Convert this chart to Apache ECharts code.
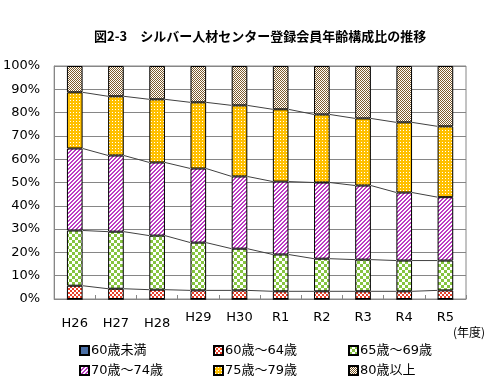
<!DOCTYPE html>
<html><head><meta charset="utf-8">
<script src="https://cdn.jsdelivr.net/npm/echarts@6/dist/echarts.min.js"></script>
<style>html,body{margin:0;padding:0;background:#fff}#c{width:491px;height:387px}</style>
</head><body><div id="c"></div>
<script>
const categories = ['H26','H27','H28','H29','H30','R1','R2','R3','R4','R5'];
const seriesNames = ['60歳未満','60歳～64歳','65歳～69歳','70歳～74歳','75歳～79歳','80歳以上'];
const under60 = [0,0,0,0,0,0,0,0,0,0];
const age60_64 = [5.7,4.4,4.0,3.7,3.7,3.3,3.3,3.3,3.3,3.7];
const age65_69 = [23.7,24.5,23.2,20.5,17.9,15.8,14.0,13.6,13.2,12.8];
const age70_74 = [35.2,32.7,31.4,31.8,31.0,31.3,32.7,31.8,29.2,27.2];
const age75_79 = [24.1,25.4,27.1,28.4,30.5,31.0,29.2,28.8,30.1,30.4];
const age80plus = [11.3,13.0,14.3,15.6,16.9,18.6,20.8,22.5,24.2,25.9];
const yTicks = [0,10,20,30,40,50,60,70,80,90,100];

function pat(w,h,draw){const c=document.createElement('canvas');c.width=w;c.height=h;const g=c.getContext('2d');g.fillStyle='#fff';g.fillRect(0,0,w,h);draw(g);return {image:c,repeat:'repeat'};}
const pRed = pat(4,4,g=>{g.fillStyle='#E8402A';g.fillRect(0,0,2,2);g.fillRect(2,2,2,2);});
const pGreen = pat(6,6,g=>{g.fillStyle='#86C440';g.fillRect(0,0,3,3);g.fillRect(3,3,3,3);});
const pMag = pat(4,4,g=>{g.fillStyle='#BC3CC4';for(let x=0;x<4;x++)for(let y=0;y<4;y++){if((x+y)%4<2)g.fillRect(x,y,1,1);}});
const pOrange = pat(3,3,g=>{g.fillStyle='#FFC000';g.fillRect(0,0,3,3);g.fillStyle='#fff';g.fillRect(1,1,1,1);});
const pBrown = pat(2,2,g=>{g.fillStyle='#7E5C2C';g.fillRect(0,0,1,1);g.fillRect(1,1,1,1);});
const fills = ['#4A6FA5',pRed,pGreen,pMag,pOrange,pBrown];
const values = [under60,age60_64,age65_69,age70_74,age75_79,age80plus];

const FONT = '"DejaVu Sans","Noto Sans CJK JP",sans-serif';
const BAR = 0.38;

const barSeries = values.map((v,k)=>({
  name: seriesNames[k], type:'bar', stack:'s', barWidth: (BAR*100)+'%', data:v,
  itemStyle:{color:fills[k], borderColor:'#000', borderWidth:1},
  emphasis:{disabled:true}, animation:false
}));

const cum = [];
let run = categories.map(()=>0);
for(let k=0;k<5;k++){ run = run.map((r,i)=>r+values[k][i]); if(k>=1) cum.push(run.slice()); }
const lineSeries = cum.map(arr=>({
  type:'custom', silent:true, animation:false, z:5,
  data: arr.slice(0,-1).map((v,i)=>[i, v, arr[i+1]]),
  encode:{x:0,y:1},
  renderItem:(params, api)=>{
    const i=api.value(0);
    const band=api.size([1,0])[0];
    const half=band*BAR/2;
    const p1=api.coord([i, api.value(1)]);
    const p2=api.coord([i+1, api.value(2)]);
    return {type:'line', shape:{x1:p1[0]+half,y1:p1[1],x2:p2[0]-half,y2:p2[1]}, style:{stroke:'#404040',lineWidth:1}};
  }
}));

const legendPos = [[79,344],[213,344],[348,344],[79,364],[213,364],[348,364]];
const legends = seriesNames.map((n,k)=>({
  data:[n], left:legendPos[k][0], top:legendPos[k][1], itemWidth:9, itemHeight:9, itemGap:0,
  icon:'rect', selectedMode:false, padding:0,
  textStyle:{fontFamily:FONT,fontSize:13,color:'#000',padding:[0,0,0,-3]}
}));

const chart = echarts.init(document.getElementById('c'),null,{renderer:'canvas'});
chart.setOption({
  animation:false,
  title:{text:'図2-3　シルバー人材センター登録会員年齢構成比の推移', left:89, top:25,
    textStyle:{fontFamily:'"Noto Sans CJK JP",sans-serif',fontSize:13,fontWeight:'bold',color:'#000'}},
  legend:legends,
  grid:{left:54,top:66,right:25,bottom:88,show:true,borderColor:'#868686',borderWidth:1},
  xAxis:{type:'category',data:categories,
    axisLine:{lineStyle:{color:'#868686'}},
    axisTick:{show:true,inside:true,length:4,lineStyle:{color:'#868686'}},
    axisLabel:{interval:0,margin:12,fontFamily:FONT,fontSize:13,color:'#000',
      formatter:(v,i)=> i<3 ? '{a|'+v+'}' : '{b|'+v+'}',
      rich:{a:{fontFamily:FONT,fontSize:13,color:'#000',padding:[6,0,0,0]},b:{fontFamily:FONT,fontSize:13,color:'#000'}}}},
  yAxis:{type:'value',min:yTicks[0],max:yTicks[yTicks.length-1],interval:10,
    axisLine:{show:true,lineStyle:{color:'#868686'}},axisTick:{show:false},
    splitLine:{lineStyle:{color:'#868686'}},
    axisLabel:{margin:14,fontFamily:FONT,fontSize:13,color:'#000',formatter:'{value}%'}},
  graphic:[{type:'text',left:453,top:326,style:{text:'(年度)',font:'12px "Noto Sans CJK JP",sans-serif',fill:'#000'}}],
  series: barSeries.concat(lineSeries)
});
</script></body></html>
